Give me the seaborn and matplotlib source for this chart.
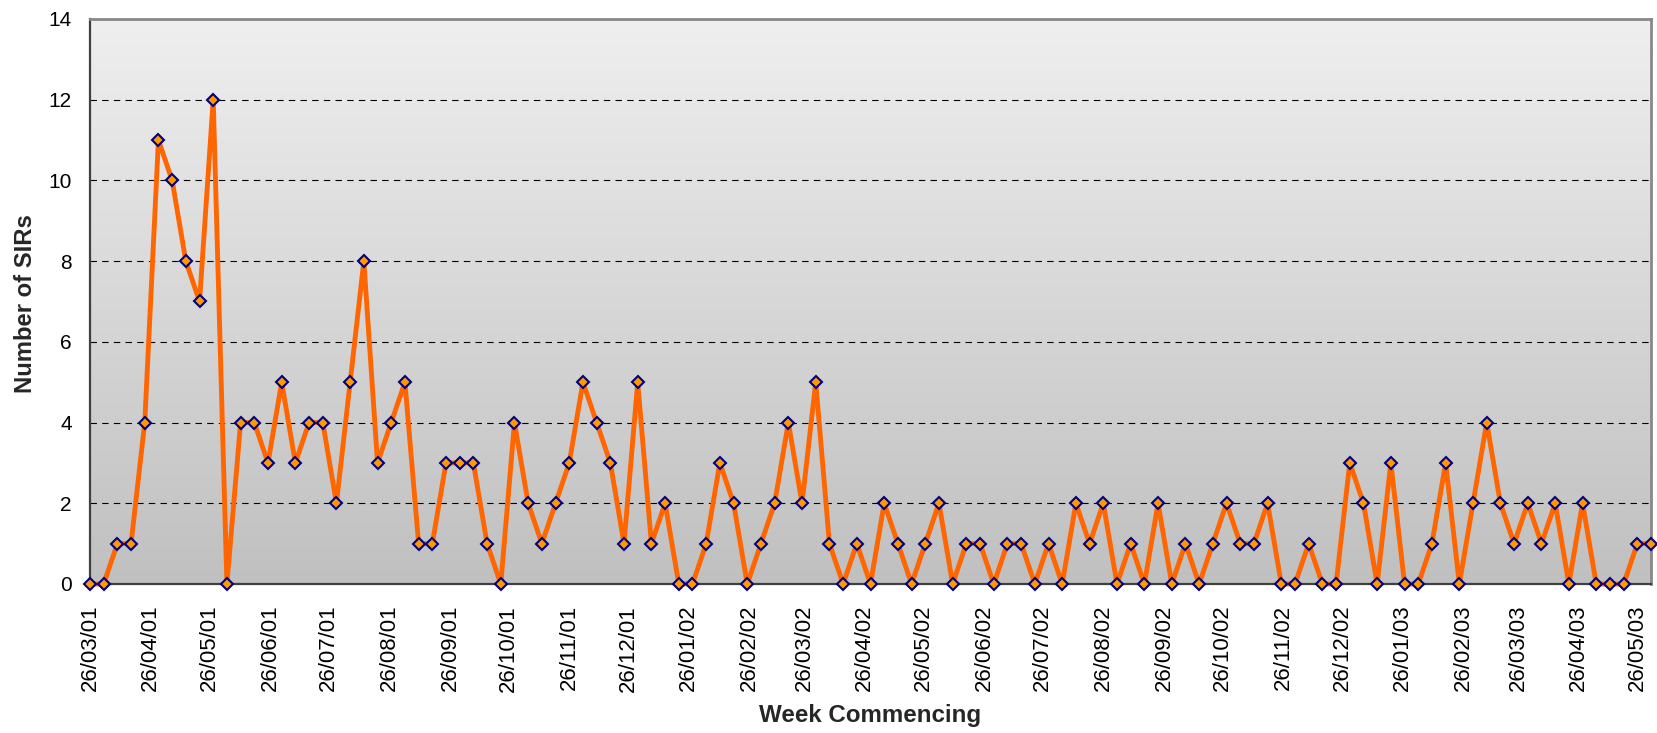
import seaborn as sns
import matplotlib.pyplot as plt
import matplotlib.dates as mdates
import pandas as pd
import numpy as np
from matplotlib.colors import LinearSegmentedColormap

# -----------------------------
# 1. Data (weekly SIR counts)
# -----------------------------
start_week = "2001-03-26"
sirs = [
    0, 0, 1, 1, 4, 11, 10, 8, 7, 12,
    0, 4, 4, 3, 5, 3, 4, 4, 2, 5,
    8, 3, 4, 5, 1, 1, 3, 3, 3, 1,
    0, 4, 2, 1, 2, 3, 5, 4, 3, 1,
    5, 1, 2, 0, 0, 1, 3, 2, 0, 1,
    2, 4, 2, 5, 1, 0, 1, 0, 2, 1,
    0, 1, 2, 0, 1, 1, 0, 1, 1, 0,
    1, 0, 2, 1, 2, 0, 1, 0, 2, 0,
    1, 0, 1, 2, 1, 1, 2, 0, 0, 1,
    0, 0, 3, 2, 0, 3, 0, 0, 1, 3,
    0, 2, 4, 2, 1, 2, 1, 2, 0, 2,
    0, 0, 0, 1, 1,
]
weeks = pd.date_range(start=start_week, periods=len(sirs), freq="7D")
df = pd.DataFrame({"week": weeks, "sirs": sirs})

y_ticks = [0, 2, 4, 6, 8, 10, 12, 14]

# -----------------------------
# 2. Style
# -----------------------------
sns.set_theme(style="white")
plt.rcParams["font.family"] = ["Liberation Sans", "DejaVu Sans"]

fig = plt.figure(figsize=(16.57, 7.33), dpi=100)
rect = [0.0543, 0.2033, 0.9421, 0.7708]

# gradient plot-area background
bg = fig.add_axes(rect, zorder=0)
grad = np.linspace(0, 1, 256).reshape(-1, 1)
cmap = LinearSegmentedColormap.from_list("grey_grad", ["#efefef", "#c0c0c0"])
bg.imshow(grad, cmap=cmap, aspect="auto", extent=[0, 1, 0, 1])
bg.axis("off")

ax = fig.add_axes(rect, zorder=1)
ax.patch.set_alpha(0)

# -----------------------------
# 3. Line
# -----------------------------
sns.lineplot(
    data=df, x="week", y="sirs", ax=ax,
    color="#ff6600", linewidth=3.5,
    marker="D", markersize=6.3,
    markerfacecolor="#ff9900", markeredgecolor="#000080", markeredgewidth=1.5,
    clip_on=False, zorder=3,
)

# -----------------------------
# 4. Axes
# -----------------------------
ax.set_xlim(weeks[0], weeks[-1])
ax.set_ylim(0, 14)
ax.set_yticks(y_ticks)
ax.xaxis.set_major_locator(mdates.MonthLocator(bymonthday=26))
ax.xaxis.set_major_formatter(mdates.DateFormatter("%d/%m/%y"))
plt.setp(ax.get_xticklabels(), rotation=90)

ax.yaxis.grid(True, linestyle=(0, (5.8, 4.7)), color="black", linewidth=0.8)
ax.xaxis.grid(False)

for side in ["left", "bottom"]:
    ax.spines[side].set_color("#404040")
    ax.spines[side].set_linewidth(1.6)
for side in ["top", "right"]:
    ax.spines[side].set_color("#888888")
    ax.spines[side].set_linewidth(2)

ax.tick_params(axis="both", direction="out", length=5, width=1.2,
               color="#404040", labelcolor="black")
ax.tick_params(axis="x", pad=10, labelsize=16)
ax.tick_params(axis="y", pad=8, labelsize=15)

ax.set_xlabel("Week Commencing", fontsize=17.4, fontweight="bold")
ax.set_ylabel("Number of SIRs", fontsize=17.2, fontweight="bold")
ax.xaxis.set_label_coords(0.5, -0.213)
ax.yaxis.set_label_coords(-0.0416, 0.496)
ax.yaxis.label.set_va("center")

fig.savefig("out.png", dpi=100)
plt.close(fig)
